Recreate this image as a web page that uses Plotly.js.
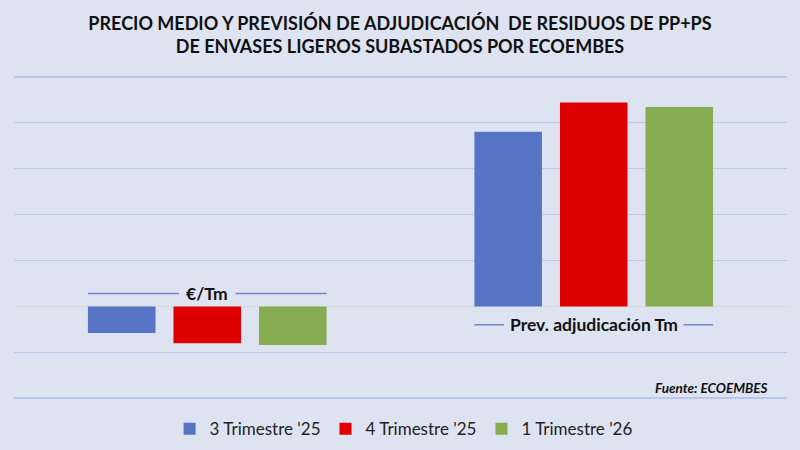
<!DOCTYPE html>
<html>
<head>
<meta charset="utf-8">
<script src="https://cdn.plot.ly/plotly-3.0.1.min.js"></script>
<style>html,body{margin:0;padding:0;background:#DEE3F2;}#chart{width:800px;height:450px;}</style>
</head>
<body>
<div id="chart"></div>
<script>
const categories = ["€/Tm", "Prev. adjudicación Tm"];
const seriesNames = ["3 Trimestre '25", "4 Trimestre '25", "1 Trimestre '26"];
const q3_25 = [-29, 190];
const q4_25 = [-40, 222];
const q1_26 = [-42, 217];
const colors = ["#5673C4", "#DE0000", "#87AD52"];

const FONT = "Lato, 'Open Sans', sans-serif";
const idx = categories.map((c, i) => i);
const seriesValues = [q3_25, q4_25, q1_26];

const traces = seriesValues.map((vals, k) => ({
  type: "bar",
  name: seriesNames[k],
  x: idx,
  y: vals,
  marker: { color: colors[k] },
  hoverinfo: "y+name"
}));

// decorative category label lines
const labelY = [14, -20];
const halfGroup = 0.309;
const textGap = [0.073, 0.232];
const lineColor = "#7089D0";
const shapes = [];
idx.forEach(i => {
  shapes.push({ type: "line", xref: "x", yref: "y", x0: i - halfGroup, x1: i - textGap[i], y0: labelY[i], y1: labelY[i], line: { color: lineColor, width: 1.5 } });
  shapes.push({ type: "line", xref: "x", yref: "y", x0: i + textGap[i], x1: i + halfGroup, y0: labelY[i], y1: labelY[i], line: { color: lineColor, width: 1.5 } });
});

const annotations = idx.map(i => ({
  x: i, y: labelY[i], xref: "x", yref: "y",
  text: "<b>" + categories[i] + "</b>",
  showarrow: false,
  font: { family: FONT, size: 17.5, color: "#111111" },
  xanchor: "center", yanchor: "middle"
}));
annotations.push({
  x: 0.978, y: -89, xref: "paper", yref: "y",
  text: "<b><i>Fuente: ECOEMBES</i></b>",
  showarrow: false, xanchor: "right", yanchor: "middle",
  font: { family: FONT, size: 13.5, color: "#111111" }
});

const layout = {
  width: 800, height: 450,
  paper_bgcolor: "#DEE3F2",
  plot_bgcolor: "#DEE3F2",
  margin: { l: 14, r: 13, t: 74, b: 49, autoexpand: false },
  title: {
    text: "<b>PRECIO MEDIO Y PREVISIÓN DE ADJUDICACIÓN  DE RESIDUOS DE PP+PS<br>DE ENVASES LIGEROS SUBASTADOS POR ECOEMBES</b>",
    x: 0.5, xanchor: "center",
    y: 1 - 30 / 450, yanchor: "middle", yref: "container",
    font: { family: FONT, size: 18, color: "#111111" }
  },
  barmode: "group",
  bargap: 0.336,
  bargroupgap: 0.21,
  xaxis: {
    type: "linear",
    range: [-0.5, 1.5],
    showticklabels: false,
    showgrid: false,
    zeroline: false,
    ticks: "",
    fixedrange: true
  },
  yaxis: {
    range: [-103, 253],
    dtick: 50,
    tick0: 0,
    showticklabels: false,
    gridcolor: "#B9C7EA",
    gridwidth: 1.5,
    zeroline: true,
    zerolinecolor: "#D8D8D2",
    zerolinewidth: 1.5,
    ticks: "",
    fixedrange: true
  },
  showlegend: true,
  legend: {
    orientation: "h",
    x: 0.504, xanchor: "center",
    y: -0.086, yanchor: "middle",
    font: { family: FONT, size: 17, color: "#222222" },
    itemwidth: 30,
    traceorder: "normal",
    bgcolor: "rgba(0,0,0,0)"
  },
  shapes: shapes,
  annotations: annotations
};

Plotly.newPlot("chart", traces, layout, { displayModeBar: false, staticPlot: true });
</script>
</body>
</html>
